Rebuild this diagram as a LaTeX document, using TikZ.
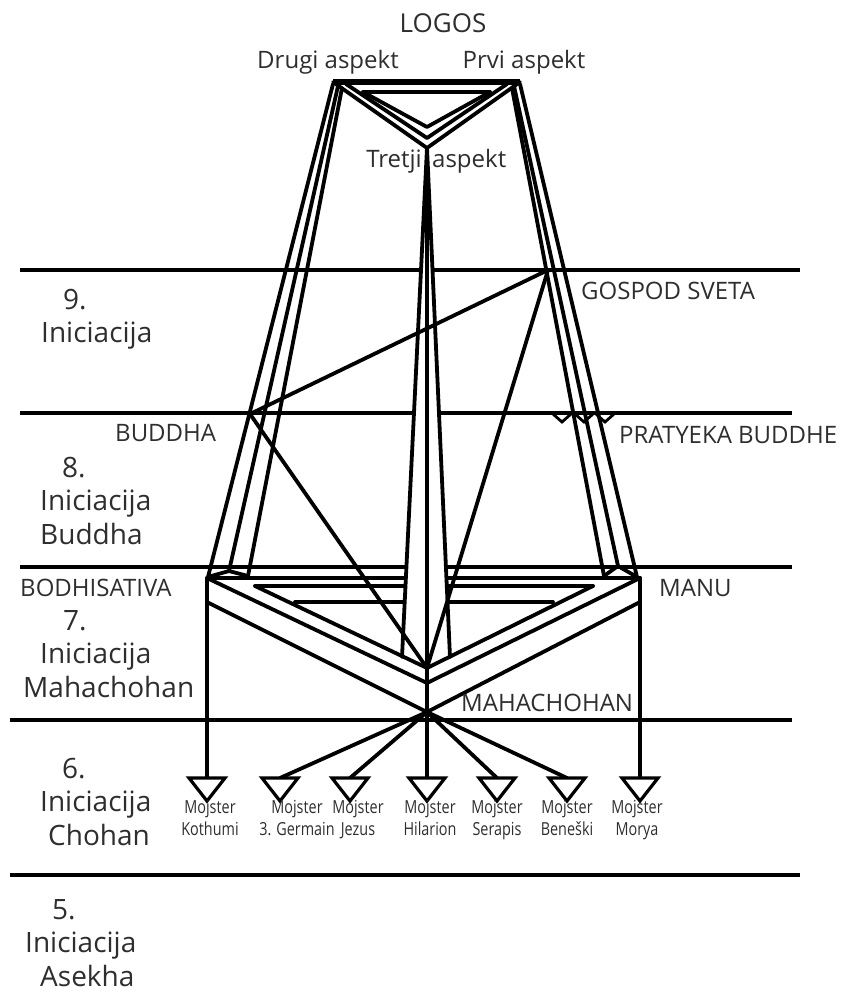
\documentclass[tikz,border=0pt]{standalone}
\usepackage{fontspec}
\setmainfont{Open Sans}
\newfontfamily\condfont[FakeStretch=0.8]{Open Sans}
\definecolor{txt}{HTML}{2E2E2E}
\begin{document}
\begin{tikzpicture}[x=1pt,y=-1pt,
  ln/.style={line width=3.8pt, line cap=round, line join=round},
  hl/.style={line width=4.4pt},
  big/.style={text=txt, font=\fontsize{28}{30}\selectfont, inner sep=0pt, anchor=west, text height=20pt, text depth=6pt},
  mid/.style={text=txt, font=\fontsize{24}{26}\selectfont, inner sep=0pt, text height=17pt, text depth=5pt},
  sml/.style={text=txt, font=\condfont\fontsize{18}{22}\selectfont, inner sep=0pt, align=center, anchor=north},
  tri/.style={line width=3.2pt, line join=miter, fill=white}]
\useasboundingbox (0,0) rectangle (844,997);
% key points
\coordinate (TL) at (333,82);
\coordinate (TR) at (520,82);
\coordinate (TV) at (427,148);
\coordinate (GS) at (548,270);
\coordinate (BU) at (250,414);
\coordinate (C) at (427,668);
\coordinate (HUB) at (427,712);
\coordinate (A) at (207,578);
\coordinate (B) at (640,578);
% horizontal levels
\draw[hl] (20,270)--(800,270);
\draw[hl] (20,413)--(792,413);
\draw[hl] (20,567)--(792,567);
\draw[hl] (10,720)--(792,720);
\draw[hl] (10,875)--(800,875);
% bottom triangle horizontals
\draw[ln] (A)--(B);
\draw[ln] (255,586)--(593,586);
\draw[ln] (295,602)--(553,602);
% central column (white wedge)
\fill[white] (TV)--(402,657)--(C)--(450,657)--cycle;
\draw[ln] (TV)--(402,657);
\draw[ln] (TV)--(450,657);
\draw[ln] (TV)--(HUB);
% top triangle
\draw[line width=6.5pt] (TL)--(TR);
\draw[ln] (363,92)--(490,92);
\draw[ln] (TL)--(TV)--(TR);
\draw[ln] (346,84)--(427,138)--(507,84);
\draw[ln] (363,92)--(427,127)--(490,92);
% left pillar
\draw[ln] (333,84)--(208,577);
\draw[ln] (338,86)--(229,571);
\draw[ln] (342,88)--(248,576);
\draw[ln] (208,577)--(229,571)--(248,576);
% right pillar
\draw[ln] (520,84)--(637,577);
\draw[ln] (514,86)--(618,566);
\draw[ln] (512,88)--(604,576);
\draw[ln] (604,576)--(618,566)--(637,577);
% bottom triangle slanted
\draw[ln] (A)--(427,683)--(B);
\draw[ln] (207,602)--(HUB)--(640,602);
\draw[ln] (255,586)--(C)--(593,586);
% diagonals from Gospod Sveta and Buddha
\draw[ln] (GS)--(BU);
\draw[ln] (BU)--(C);
\draw[ln] (GS)--(C);
% pratyeka buddhe triangles
\foreach \c in {562,584,605}{
  \draw[line width=2.8pt, line join=miter] (\c-9,414)--(\c,422)--(\c+9,414);
}
% verticals to Kothumi and Morya
\draw[ln] (A)--(207,778);
\draw[ln] (B)--(640,778);
% rays to masters
\foreach \c in {280,350,427,497,567}{
  \draw[ln] (HUB)--(\c,778);
}
% master triangles
\foreach \c in {207,280,350,427,497,567,640}{
  \draw[tri] (\c-18,778)--(\c+18,778)--(\c,801)--cycle;
}
% labels
\node[mid, font=\fontsize{26}{28}\selectfont] (logos) at (443,26) {LOGOS};
\node[mid] (drugi) at (328,62) {Drugi aspekt};
\node[mid] (prvi) at (524,62) {Prvi aspekt};
\node[mid, anchor=east] (tretji1) at (422,161) {Tretji};
\node[mid, anchor=west] (tretji2) at (432,161) {aspekt};
\node[mid, anchor=west] (gospod) at (581,293) {GOSPOD SVETA};
\node[mid, anchor=west] (buddha) at (115,435) {BUDDHA};
\node[mid, anchor=west] (pratyeka) at (619,437) {PRATYEKA BUDDHE};
\node[mid, anchor=west] (bodhi) at (20,590) {BODHISATIVA};
\node[mid, anchor=west] (manu) at (659,590) {MANU};
\node[mid, anchor=west] (maha) at (461,705) {MAHACHOHAN};
\node[big] (n9) at (63,302) {9.};
\node[big] (i9) at (41,335) {Iniciacija};
\node[big] (n8) at (62,470) {8.};
\node[big] (i8) at (40,503) {Iniciacija};
\node[big] (b8) at (40,537) {Buddha};
\node[big] (n7) at (63,623) {7.};
\node[big] (i7) at (40,656) {Iniciacija};
\node[big] (m7) at (23,690) {Mahachohan};
\node[big] (n6) at (62,771) {6.};
\node[big] (i6) at (40,804) {Iniciacija};
\node[big] (c6) at (48,838) {Chohan};
\node[big] (n5) at (52,912) {5.};
\node[big] (i5) at (25,945) {Iniciacija};
\node[big] (a5) at (40,979) {Asekha};
% master names
\node[sml] (mk) at (210,798) {\strut Mojster\\\strut Kothumi};
\node[sml] (mg) at (297,798) {\strut Mojster\\\strut 3. Germain};
\node[sml] (mj) at (358,798) {\strut Mojster\\\strut Jezus};
\node[sml] (mh) at (430,798) {\strut Mojster\\\strut Hilarion};
\node[sml] (ms) at (497,798) {\strut Mojster\\\strut Serapis};
\node[sml] (mb) at (567,798) {\strut Mojster\\\strut Beneški};
\node[sml] (mm) at (637,798) {\strut Mojster\\\strut Morya};
\end{tikzpicture}
\end{document}
